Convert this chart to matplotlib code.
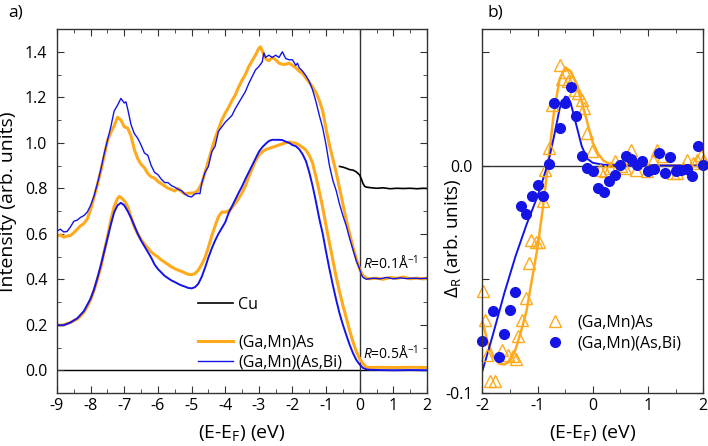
import matplotlib
matplotlib.use("Agg")
import matplotlib.pyplot as plt
from matplotlib.lines import Line2D
from matplotlib.ticker import MultipleLocator, FuncFormatter

plt.rcParams['font.family'] = ['Open Sans', 'DejaVu Sans']
plt.rcParams['axes.unicode_minus'] = False
plt.rcParams['mathtext.fontset'] = 'custom'
plt.rcParams['mathtext.rm'] = 'Open Sans'
plt.rcParams['mathtext.it'] = 'Open Sans:italic'

ORANGE = '#FFAA1D'
BLUE = '#1414E6'

# ---- panel a: spectra ----
up_bi_x = [-9.0, -8.9, -8.8, -8.7, -8.6, -8.5, -8.4, -8.3, -8.2, -8.1, -8.0, -7.9, -7.8, -7.7,
           -7.6, -7.5, -7.4, -7.3, -7.2, -7.1, -7.0, -6.95, -6.9, -6.8, -6.7, -6.6, -6.5, -6.4,
           -6.3, -6.2, -6.1, -6.0, -5.9, -5.8, -5.7, -5.6, -5.5, -5.4, -5.3, -5.2, -5.1, -5.0,
           -4.9, -4.8, -4.75, -4.7, -4.6, -4.5, -4.4, -4.3, -4.2, -4.1, -4.0, -3.9, -3.8, -3.7,
           -3.6, -3.5, -3.4, -3.3, -3.2, -3.1, -3.0, -2.9, -2.85, -2.8, -2.7, -2.6, -2.5, -2.4,
           -2.3, -2.2, -2.1, -2.0, -1.9, -1.85, -1.8, -1.7, -1.6, -1.5, -1.4, -1.3, -1.2, -1.1,
           -1.0, -0.9, -0.8, -0.7, -0.6, -0.5, -0.4, -0.3, -0.2, -0.1, 0.0, 0.05, 0.1, 0.2,
           0.4, 0.6, 0.8, 1.0, 1.2, 1.4, 1.6, 1.8, 2.0]
up_bi_y = [0.612, 0.62, 0.608, 0.61, 0.63, 0.655, 0.66, 0.672, 0.68, 0.695, 0.725, 0.765, 0.82, 0.88,
           0.95, 1.01, 1.07, 1.14, 1.165, 1.195, 1.175, 1.18, 1.15, 1.08, 1.04, 1.02, 0.99, 0.955,
           0.945, 0.9, 0.87, 0.86, 0.84, 0.825, 0.825, 0.812, 0.805, 0.795, 0.79, 0.775, 0.765, 0.762,
           0.775, 0.778, 0.776, 0.82, 0.87, 0.895, 0.96, 0.985, 1.05, 1.07, 1.09, 1.105, 1.12, 1.15,
           1.175, 1.2, 1.225, 1.26, 1.29, 1.32, 1.335, 1.355, 1.395, 1.375, 1.385, 1.375, 1.385, 1.375,
           1.4, 1.37, 1.365, 1.365, 1.34, 1.35, 1.33, 1.315, 1.295, 1.27, 1.232, 1.18, 1.12, 1.065,
           0.99, 0.9, 0.835, 0.79, 0.73, 0.68, 0.635, 0.58, 0.53, 0.48, 0.445, 0.42, 0.408, 0.4,
           0.405, 0.402, 0.408, 0.402, 0.406, 0.403, 0.405, 0.403, 0.405]

up_as_x = [-9.0, -8.9, -8.8, -8.7, -8.6, -8.5, -8.4, -8.3, -8.2, -8.1, -8.0, -7.9, -7.8, -7.7,
           -7.6, -7.5, -7.4, -7.3, -7.2, -7.1, -7.0, -6.9, -6.8, -6.7, -6.6, -6.5, -6.4, -6.3,
           -6.2, -6.1, -6.0, -5.9, -5.8, -5.7, -5.6, -5.5, -5.4, -5.3, -5.2, -5.1, -5.0, -4.9,
           -4.8, -4.7, -4.6, -4.5, -4.4, -4.3, -4.2, -4.1, -4.0, -3.9, -3.8, -3.7, -3.6, -3.5,
           -3.4, -3.3, -3.2, -3.1, -3.0, -2.95, -2.9, -2.8, -2.7, -2.6, -2.5, -2.4, -2.3, -2.2,
           -2.1, -2.0, -1.9, -1.8, -1.7, -1.6, -1.5, -1.4, -1.3, -1.2, -1.1, -1.0, -0.9, -0.8,
           -0.7, -0.6, -0.5, -0.4, -0.3, -0.2, -0.1, 0.0, 0.1, 0.2, 0.3, 0.5, 0.7, 0.9,
           1.1, 1.3, 1.5, 1.7, 1.9, 2.0]
up_as_y = [0.589, 0.595, 0.585, 0.59, 0.592, 0.605, 0.62, 0.635, 0.645, 0.665, 0.706, 0.76, 0.815, 0.875,
           0.94, 1.01, 1.045, 1.075, 1.112, 1.1, 1.07, 1.065, 1.03, 0.97, 0.93, 0.905, 0.89, 0.865,
           0.85, 0.845, 0.83, 0.82, 0.81, 0.8, 0.795, 0.788, 0.8, 0.785, 0.775, 0.778, 0.779, 0.78,
           0.793, 0.82, 0.87, 0.92, 0.97, 1.02, 1.06, 1.1, 1.13, 1.155, 1.185, 1.21, 1.245, 1.275,
           1.3, 1.335, 1.36, 1.385, 1.415, 1.422, 1.405, 1.37, 1.36, 1.375, 1.365, 1.35, 1.345, 1.345,
           1.35, 1.34, 1.33, 1.315, 1.305, 1.285, 1.265, 1.245, 1.22, 1.185, 1.14, 1.06, 0.99, 0.93,
           0.87, 0.8, 0.73, 0.66, 0.6, 0.54, 0.49, 0.443, 0.415, 0.405, 0.402, 0.405, 0.4, 0.408,
           0.404, 0.41, 0.402, 0.405, 0.402, 0.405]

lo_as_x = [-9.0, -8.9, -8.8, -8.7, -8.6, -8.5, -8.4, -8.3, -8.2, -8.1, -8.0, -7.9, -7.8, -7.7,
           -7.6, -7.5, -7.4, -7.3, -7.2, -7.15, -7.1, -7.0, -6.9, -6.8, -6.7, -6.6, -6.5, -6.4,
           -6.3, -6.2, -6.1, -6.0, -5.9, -5.8, -5.7, -5.6, -5.5, -5.4, -5.3, -5.2, -5.1, -5.0,
           -4.9, -4.8, -4.7, -4.6, -4.5, -4.4, -4.3, -4.2, -4.1, -4.0, -3.9, -3.8, -3.7, -3.6,
           -3.5, -3.4, -3.3, -3.2, -3.1, -3.0, -2.9, -2.8, -2.7, -2.6, -2.5, -2.4, -2.3, -2.2,
           -2.1, -2.0, -1.9, -1.8, -1.7, -1.6, -1.5, -1.4, -1.3, -1.2, -1.1, -1.0, -0.9, -0.8,
           -0.7, -0.6, -0.5, -0.4, -0.3, -0.2, -0.1, 0.0, 0.1, 0.2, 0.3, 0.6, 1.0, 1.5, 2.0]
lo_as_y = [0.2, 0.198, 0.2, 0.205, 0.21, 0.218, 0.225, 0.238, 0.255, 0.28, 0.31, 0.35, 0.4, 0.45,
           0.52, 0.585, 0.66, 0.72, 0.755, 0.764, 0.76, 0.745, 0.72, 0.675, 0.63, 0.6, 0.575, 0.555,
           0.537, 0.52, 0.508, 0.498, 0.485, 0.475, 0.465, 0.455, 0.447, 0.44, 0.435, 0.428, 0.422, 0.42,
           0.425, 0.44, 0.465, 0.495, 0.54, 0.59, 0.635, 0.675, 0.695, 0.695, 0.7, 0.715, 0.735, 0.755,
           0.78, 0.81, 0.85, 0.885, 0.92, 0.945, 0.96, 0.97, 0.975, 0.98, 0.985, 0.99, 0.995, 1.0,
           1.003, 1.0, 0.998, 0.99, 0.98, 0.968, 0.945, 0.91, 0.85, 0.785, 0.715, 0.635, 0.56, 0.485,
           0.41, 0.345, 0.285, 0.23, 0.175, 0.125, 0.082, 0.05, 0.028, 0.014, 0.012, 0.013, 0.012, 0.013, 0.012]

lo_bi_x = [-9.0, -8.8, -8.6, -8.4, -8.2, -8.0, -7.9, -7.8, -7.7, -7.6, -7.5, -7.4, -7.3, -7.2,
           -7.1, -7.0, -6.9, -6.8, -6.7, -6.6, -6.5, -6.4, -6.3, -6.2, -6.1, -6.0, -5.9, -5.8,
           -5.7, -5.6, -5.5, -5.4, -5.3, -5.2, -5.1, -5.0, -4.9, -4.8, -4.7, -4.6, -4.5, -4.4,
           -4.3, -4.2, -4.1, -4.0, -3.9, -3.8, -3.7, -3.6, -3.5, -3.4, -3.3, -3.2, -3.1, -3.0,
           -2.9, -2.8, -2.7, -2.6, -2.5, -2.4, -2.3, -2.2, -2.1, -2.0, -1.9, -1.8, -1.7, -1.6,
           -1.5, -1.4, -1.3, -1.2, -1.1, -1.0, -0.9, -0.8, -0.7, -0.6, -0.5, -0.4, -0.3, -0.2,
           -0.1, 0.0, 0.1, 0.2, 0.3, 0.6, 1.0, 1.5, 2.0]
lo_bi_y = [0.198, 0.198, 0.21, 0.228, 0.26, 0.315, 0.355, 0.405, 0.46, 0.52, 0.58, 0.64, 0.695, 0.725,
           0.736, 0.725, 0.7, 0.67, 0.635, 0.6, 0.57, 0.545, 0.52, 0.495, 0.465, 0.445, 0.43, 0.415,
           0.405, 0.395, 0.388, 0.38, 0.373, 0.368, 0.362, 0.36, 0.365, 0.38, 0.41, 0.45, 0.495, 0.535,
           0.57, 0.6, 0.625, 0.65, 0.69, 0.72, 0.75, 0.78, 0.808, 0.84, 0.87, 0.9, 0.93, 0.96,
           0.98, 0.995, 1.008, 1.013, 1.013, 1.013, 1.012, 1.005, 1.0, 0.99, 0.985, 0.972, 0.95, 0.92,
           0.87, 0.81, 0.74, 0.665, 0.6, 0.52, 0.445, 0.375, 0.31, 0.25, 0.2, 0.155, 0.112, 0.075,
           0.045, 0.025, 0.01, 0.004, 0.002, 0.001, 0.0, 0.001, 0.0]

cu_x = [-0.6, -0.5, -0.4, -0.3, -0.2, -0.1, 0.0, 0.05, 0.1, 0.15, 0.2, 0.3, 0.5, 0.7,
        0.9, 1.1, 1.3, 1.5, 1.7, 1.9, 2.0]
cu_y = [0.896, 0.893, 0.888, 0.882, 0.88, 0.872, 0.858, 0.84, 0.82, 0.808, 0.805, 0.803, 0.8, 0.802,
        0.798, 0.8, 0.799, 0.8, 0.798, 0.8, 0.799]

# ---- panel b: Delta_R ----
tri_x = [-1.98, -1.95, -1.92, -1.86, -1.77, -1.65, -1.53, -1.44, -1.39, -1.35, -1.29, -1.21, -1.15,
         -1.11, -1.02, -0.97, -0.9, -0.865, -0.8, -0.74, -0.6, -0.55, -0.5, -0.45, -0.38, -0.32,
         -0.26, -0.2, -0.15, -0.1, -0.02, 0.13, 0.22, 0.31, 0.4, 0.52, 0.58, 0.7, 0.79, 0.99,
         1.09, 1.17, 1.28, 1.46, 1.52, 1.64, 1.7, 1.82, 1.88, 1.96, 2.0]
tri_y = [-0.0553, -0.0678, -0.0832, -0.0949, -0.0949, -0.081, -0.0832, -0.0839, -0.085, -0.0751, -0.0678, -0.0583, -0.0429,
         -0.0326, -0.0334, -0.0334, -0.0158, -0.0019, 0.0076, 0.0266, 0.044, 0.038, 0.041, 0.037, 0.0376, 0.0332,
         0.0318, 0.029, 0.0252, 0.0142, 0.0062, -0.0019, -0.0026, -0.0012, 0.0018, -0.0004, -0.0012, 0.0069, -0.0019, -0.0026,
         0.0025, 0.0069, 0.004, -0.0034, -0.0034, -0.001, 0.0026, 0.001, 0.0025, 0.0047, 0.0018]

dot_x = [-2.0, -1.8, -1.7, -1.6, -1.5, -1.4, -1.3, -1.2, -1.1, -1.0, -0.9, -0.8, -0.7, -0.6,
         -0.5, -0.4, -0.3, -0.2, -0.1, 0.0, 0.1, 0.2, 0.3, 0.4, 0.5, 0.6, 0.7, 0.8,
         0.9, 1.0, 1.1, 1.2, 1.3, 1.4, 1.5, 1.6, 1.7, 1.8, 1.9, 2.0]
dot_y = [-0.0773, -0.0638, -0.0842, -0.074, -0.0634, -0.0558, -0.018, -0.0212, -0.0136, -0.0085, -0.0133, 0.0007, 0.0274, 0.0164,
         0.0274, 0.0347, 0.0218, 0.004, -0.0012, -0.0022, -0.0099, -0.0118, -0.007, -0.0041, 0.0003, 0.004, 0.0028, 0.0003,
         0.0018, -0.0026, -0.0016, 0.0054, -0.0034, 0.0037, -0.0026, -0.002, -0.0016, -0.0045, 0.0084, 0.0003]

fit_as_x = [-2.0, -1.9, -1.8, -1.7, -1.6, -1.5, -1.4, -1.3, -1.2, -1.1, -1.0, -0.9, -0.8, -0.7,
            -0.6, -0.5, -0.4, -0.3, -0.2, -0.1, 0.0, 0.1, 0.2, 0.3, 0.5, 1.0, 2.0]
fit_as_y = [-0.068, -0.078, -0.084, -0.087, -0.0875, -0.086, -0.081, -0.073, -0.064, -0.05, -0.036, -0.018, 0.003, 0.024,
            0.038, 0.043, 0.0415, 0.036, 0.028, 0.019, 0.01, 0.005, 0.002, 0.0008, 0.0002, 0.0001, 0.0]

fit_bi_x = [-2.0, -1.8, -1.6, -1.4, -1.2, -1.0, -0.9, -0.8, -0.7, -0.6, -0.5, -0.45, -0.4, -0.3,
            -0.2, -0.1, 0.0, 0.2, 0.5, 2.0]
fit_bi_y = [-0.0905, -0.0737, -0.056, -0.04, -0.026, -0.0135, -0.006, 0.002, 0.013, 0.025, 0.0303, 0.030, 0.0275, 0.018,
            0.0085, 0.003, 0.0012, 0.0003, 0.0, 0.0]

fig = plt.figure(figsize=(7.08, 4.46), dpi=100)
ax1 = fig.add_axes([0.0805, 0.1188, 0.5226, 0.8161])
ax2 = fig.add_axes([0.6812, 0.1188, 0.3121, 0.8161])

TICK_FS = 11.5
LAB_FS = 14
LEG_FS = 11.5

ax1.axhline(0, color='black', lw=1.0, zorder=1)
ax1.axvline(0, color='#333333', lw=1.0, zorder=1)
ax1.plot(cu_x, cu_y, color='black', lw=1.2)
ax1.plot(up_as_x, up_as_y, color=ORANGE, lw=2.2)
ax1.plot(up_bi_x, up_bi_y, color=BLUE, lw=1.0)
ax1.plot(lo_as_x, lo_as_y, color=ORANGE, lw=2.2)
ax1.plot(lo_bi_x, lo_bi_y, color=BLUE, lw=1.4)
ax1.text(0.1, 0.425, r'$R$=0.1Å$^{-1}$', fontsize=10, va='bottom', ha='left')
ax1.text(0.1, 0.03, r'$R$=0.5Å$^{-1}$', fontsize=10, va='bottom', ha='left')

handles = [Line2D([], [], color='black', lw=1.2),
           Line2D([], [], color='none'),
           Line2D([], [], color=ORANGE, lw=2.2),
           Line2D([], [], color=BLUE, lw=1.0)]
ax1.legend(handles, ['Cu', '', '(Ga,Mn)As', '(Ga,Mn)(As,Bi)'], frameon=False, fontsize=LEG_FS,
           loc='upper left', bbox_to_anchor=(0.381, 0.265), handlelength=2.2, handletextpad=0.3,
           labelspacing=0.2, borderaxespad=0, borderpad=0)

ax1.set_xlim(-9, 2)
ax1.set_ylim(-0.1, 1.5)
ax1.xaxis.set_major_locator(MultipleLocator(1))
ax1.xaxis.set_minor_locator(MultipleLocator(0.5))
ax1.yaxis.set_major_locator(MultipleLocator(0.2))
ax1.yaxis.set_minor_locator(MultipleLocator(0.1))
ax1.yaxis.set_major_formatter(FuncFormatter(lambda v, p: '%.1f' % v))
ax1.set_xlabel(r'(E-E$_\mathregular{F}$) (eV)', fontsize=LAB_FS)
ax1.set_ylabel('Intensity (arb. units)', fontsize=LAB_FS)
ax1.yaxis.set_label_coords(-0.108, 0.525)
ax1.xaxis.set_label_coords(0.5, -0.082)

ax2.axhline(0, color='#333333', lw=1.0, zorder=1)
ax2.plot(fit_as_x, fit_as_y, color=ORANGE, lw=1.8)
ax2.plot(fit_bi_x, fit_bi_y, color=BLUE, lw=1.4)
ax2.plot(tri_x, tri_y, ls='none', marker='^', ms=8, mfc='none', mec=ORANGE, mew=1.0,
         label='(Ga,Mn)As', clip_on=False)
ax2.plot(dot_x, dot_y, ls='none', marker='o', ms=7, mfc=BLUE, mec=BLUE,
         label='(Ga,Mn)(As,Bi)', clip_on=False)
ax2.legend(frameon=False, fontsize=LEG_FS, loc='upper left', bbox_to_anchor=(0.293, 0.215),
           handlelength=1.0, handletextpad=0.9, labelspacing=0.28, borderaxespad=0, borderpad=0)
ax2.set_xlim(-2, 2)
ax2.set_ylim(-0.1, 0.06)
ax2.xaxis.set_major_locator(MultipleLocator(1))
ax2.xaxis.set_minor_locator(MultipleLocator(0.5))
ax2.yaxis.set_major_locator(MultipleLocator(0.05))
ax2.yaxis.set_major_formatter(FuncFormatter(
    lambda v, p: '%.1f' % v if abs(v) < 1e-9 or abs(v + 0.1) < 1e-9 else ''))
ax2.set_xlabel(r'(E-E$_\mathregular{F}$) (eV)', fontsize=LAB_FS)
ax2.set_ylabel(r'$\Delta_\mathregular{R}$ (arb. units)', fontsize=13.5)
ax2.yaxis.set_label_coords(-0.087, 0.425)
ax2.xaxis.set_label_coords(0.5, -0.082)

for ax in (ax1, ax2):
    ax.tick_params(which='both', direction='in', top=True, right=True, labelsize=TICK_FS,
                   color='#333333')
    ax.tick_params(which='major', length=5)
    ax.tick_params(which='minor', length=3)
    ax.tick_params(axis='y', pad=7)
    for s in ax.spines.values():
        s.set_color('#333333')
        s.set_linewidth(1.0)

fig.text(0.011, 0.989, 'a)', fontsize=12.5, va='top')
fig.text(0.688, 0.989, 'b)', fontsize=12.5, va='top')

fig.savefig('out.png', dpi=100)
